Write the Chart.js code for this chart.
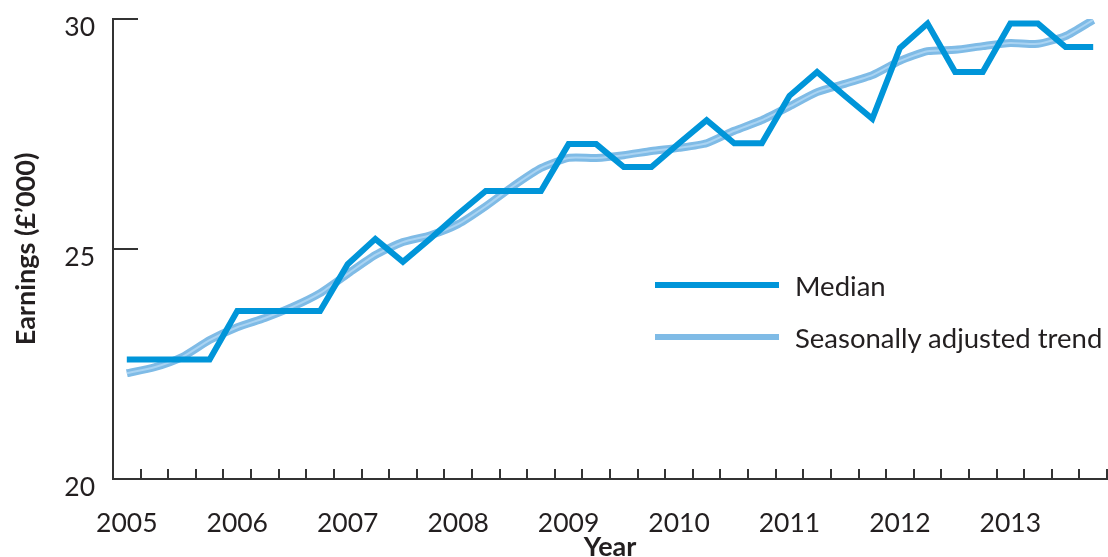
<!DOCTYPE html>
<html>
<head>
<meta charset="utf-8">
<script src="https://cdn.jsdelivr.net/npm/chart.js@4"></script>
<style>
  body { margin: 0; background: #fff; }
  #wrap { position: relative; width: 1108px; height: 557px; }
  #legend { position: absolute; left: 655px; top: 259px; font: 27.5px Lato, sans-serif; color: #231f20; }
  #legend div { display: flex; align-items: center; height: 52px; }
  #legend span.sw { display: inline-block; width: 124px; height: 6px; margin-right: 16px; }
</style>
</head>
<body>
<div id="wrap">
  <canvas id="earningsChart"></canvas>
  <div id="legend">
    <div><span class="sw" style="background:#0095d9"></span>Median</div>
    <div><span class="sw" style="background:#7fbbe6"></span>Seasonally adjusted trend</div>
  </div>
</div>
<script>
// years on the axis, each split into quarters
const years = [2005, 2006, 2007, 2008, 2009, 2010, 2011, 2012, 2013];
const quarters = [];
years.forEach(y => ["Q1", "Q2", "Q3", "Q4"].forEach(q => quarters.push(y + " " + q)));

// earnings in £'000, one value per quarter
const median = [
    22.6, 22.6, 22.6, 22.6,
    23.65, 23.65, 23.65, 23.65,
    24.67, 25.22, 24.72, 25.23,
    25.76, 26.26, 26.26, 26.26,
    27.28, 27.28, 26.78, 26.78,
    27.3, 27.8, 27.3, 27.3,
    28.33, 28.85, 28.33, 27.83,
    29.37, 29.9, 28.85, 28.85,
    29.9, 29.9, 29.39, 29.39
];
const trend = [
    22.3, 22.43, 22.65, 23.02,
    23.3, 23.5, 23.74, 24.04,
    24.46, 24.87, 25.15, 25.3,
    25.54, 25.93, 26.37, 26.76,
    26.98, 26.98, 27.04, 27.13,
    27.2, 27.3, 27.57, 27.8,
    28.1, 28.41, 28.59, 28.78,
    29.09, 29.3, 29.33, 29.41,
    29.48, 29.46, 29.63, 29.98
];
const yTicks = [20, 25, 30];

const font = "Lato, sans-serif";
const ink = "#231f20";
const axisColor = "#333";

new Chart(document.getElementById("earningsChart"), {
    type: "line",
    data: {
        labels: quarters,
        datasets: [
            { label: "Median", data: median, borderColor: "#0095d9", borderWidth: 6,
              tension: 0, borderJoinStyle: "miter", pointRadius: 0, order: 0 },
            { label: "trend stripe", data: trend, borderColor: "#a9d3f2", borderWidth: 2,
              tension: 0.2, pointRadius: 0, order: 1 },
            { label: "Seasonally adjusted trend", data: trend, borderColor: "#7fbbe6", borderWidth: 8,
              tension: 0.2, pointRadius: 0, order: 2 }
        ]
    },
    options: {
        responsive: true,
        maintainAspectRatio: false,
        animation: false,
        layout: { padding: { top: 19, right: 1 } },
        plugins: { legend: { display: false }, tooltip: { enabled: false } },
        scales: {
            x: {
                offset: true,
                grid: { offset: true, drawOnChartArea: false, tickLength: -10, color: axisColor, lineWidth: 2 },
                border: { color: axisColor, width: 2 },
                ticks: {
                    autoSkip: false, maxRotation: 0, padding: 39,
                    color: ink, font: { family: font, size: 26.5 },
                    callback: (v, i) => quarters[i].endsWith("Q1") ? quarters[i].slice(0, 4) : ""
                },
                title: { display: true, text: "Year", color: ink, font: { family: font, size: 27, weight: "bold" },
                         padding: { top: 0, bottom: -6 } },
                // fixed height, and no extra side padding from the tick padding
                afterFit: s => { s.height = 78; s.paddingLeft = 0; s.paddingRight = 0; }
            },
            y: {
                min: 20, max: 30,
                afterBuildTicks: s => { s.ticks = yTicks.map(v => ({ value: v })); },
                grid: { drawOnChartArea: false, tickLength: -25, color: axisColor, lineWidth: 2 },
                border: { color: axisColor, width: 2 },
                ticks: { padding: 43, labelOffset: 8, color: ink, font: { family: font, size: 26.5 } },
                title: { display: true, text: "Earnings (£’000)", color: ink,
                         font: { family: font, size: 27, weight: "bold" }, padding: { top: 10, bottom: 0 } },
                afterFit: s => { s.width = 113; s.paddingTop = 0; s.paddingBottom = 0; }
            }
        }
    }
});
</script>
</body>
</html>
